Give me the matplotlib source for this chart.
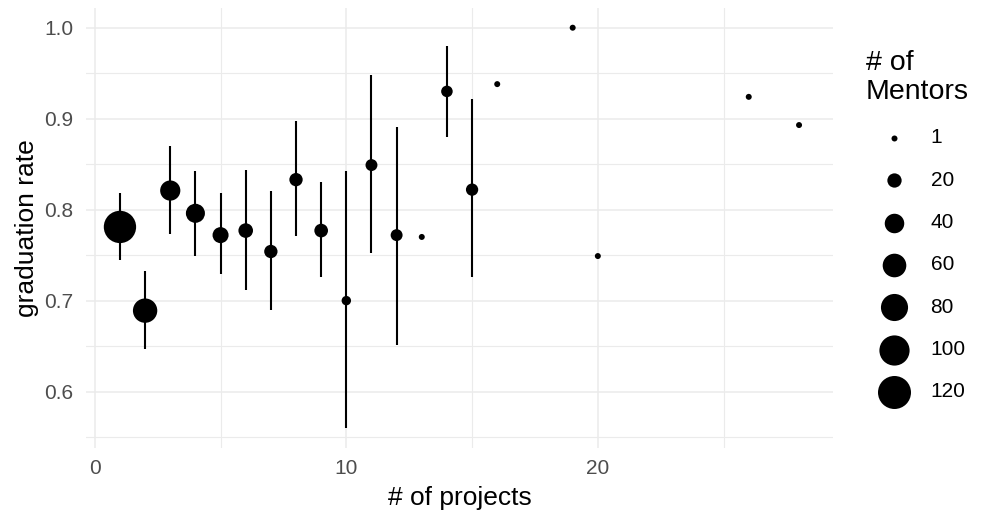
import numpy as np
import matplotlib
matplotlib.use("Agg")
import matplotlib.pyplot as plt
from matplotlib.ticker import MultipleLocator

plt.rcParams['font.family'] = ['Liberation Sans', 'DejaVu Sans']

# ---- data ----
projects = [1, 2, 3, 4, 5, 6, 7, 8, 9, 10, 11, 12, 13, 14, 15, 16, 19, 20, 26, 28]
grad_rate = [0.781, 0.689, 0.821, 0.796, 0.772, 0.777, 0.754, 0.833, 0.777, 0.700,
             0.849, 0.772, 0.770, 0.930, 0.822, 0.938, 1.000, 0.749, 0.924, 0.893]
ci_low = [0.745, 0.647, 0.773, 0.749, 0.729, 0.712, 0.690, 0.771, 0.726, 0.560,
          0.752, 0.651, np.nan, 0.880, 0.726, np.nan, np.nan, np.nan, np.nan, np.nan]
ci_high = [0.818, 0.733, 0.870, 0.842, 0.818, 0.844, 0.820, 0.897, 0.830, 0.843,
           0.948, 0.891, np.nan, 0.980, 0.922, np.nan, np.nan, np.nan, np.nan, np.nan]
mentors = [115, 64, 43, 38, 26, 21, 17, 17, 18, 7, 13, 13, 1, 12, 14, 1, 1, 1, 1, 1]
legend_breaks = [1, 20, 40, 60, 80, 100, 120]

x_label = "# of projects"
y_label = "graduation rate"
legend_title = "# of\nMentors"


def marker_area(v):
    d_px = np.sqrt(27 + 8.85 * np.asarray(v, dtype=float))
    return (d_px * 0.72) ** 2


W, H = 985, 523
fig = plt.figure(figsize=(W / 100, H / 100), dpi=100)
ax = fig.add_axes([86 / W, 1 - 448 / H, (833 - 86) / W, (448 - 7.7) / H])

x = np.array(projects, dtype=float)
y = np.array(grad_rate)
lo = np.array(ci_low)
hi = np.array(ci_high)
has = ~np.isnan(lo)

ax.vlines(x[has], lo[has], hi[has], color='black', lw=1.5, zorder=2)
ax.scatter(x, y, s=marker_area(mentors), c='black', linewidths=0, zorder=3)

xmin, xmax = x.min(), x.max()
xr = xmax - xmin
ymin = np.nanmin(np.concatenate([y, lo]))
ymax = np.nanmax(np.concatenate([y, hi]))
yr = ymax - ymin
ax.set_xlim(xmin - 0.05 * xr, xmax + 0.05 * xr)
ax.set_ylim(ymin - 0.05 * yr, ymax + 0.05 * yr)

ax.xaxis.set_major_locator(MultipleLocator(10))
ax.xaxis.set_minor_locator(MultipleLocator(5))
ax.yaxis.set_major_locator(MultipleLocator(0.1))
ax.yaxis.set_minor_locator(MultipleLocator(0.05))
ax.yaxis.set_major_formatter(plt.FuncFormatter(lambda v, p: f"{v:.1f}"))

ax.grid(which='major', color='#EBEBEB', lw=1.1, zorder=0)
ax.grid(which='minor', color='#EBEBEB', lw=0.8, zorder=0)
ax.set_axisbelow(True)
for s in ax.spines.values():
    s.set_visible(False)
ax.tick_params(which='both', length=0)
ax.tick_params(axis='x', labelsize=15, labelcolor='#4D4D4D', pad=8)
ax.tick_params(axis='y', labelsize=15, labelcolor='#4D4D4D', pad=9)

ax.set_xlabel(x_label, fontsize=19, labelpad=6)
ax.set_ylabel(y_label, fontsize=19, labelpad=4)

handles = [ax.scatter([], [], s=marker_area(v), c='black', linewidths=0) for v in legend_breaks]
leg = fig.legend(handles, [str(v) for v in legend_breaks], title=legend_title,
                 loc='upper left', bbox_to_anchor=(866 / W, 1 - 50 / H),
                 frameon=False, fontsize=15, title_fontsize=20.5,
                 alignment='left', borderpad=0, borderaxespad=0,
                 handlelength=2.7, handletextpad=0.4, labelspacing=1.12)
leg.get_title().set_linespacing(1.15)

fig.savefig("out.png", dpi=100, facecolor='white')
